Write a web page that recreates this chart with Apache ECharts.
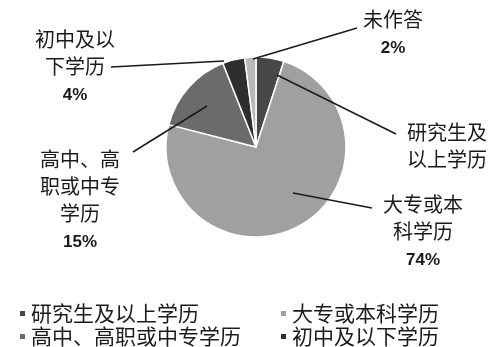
<!DOCTYPE html>
<html><head><meta charset="utf-8">
<script src="https://cdn.jsdelivr.net/npm/echarts@6/dist/echarts.min.js"></script>
<style>html,body{margin:0;padding:0;background:#fff}#c{width:498px;height:347px}</style>
</head><body><div id="c"></div>
<script>
// ---- data ----
const categories = ['研究生及以上学历', '大专或本科学历', '高中、高职或中专学历', '初中及以下学历', '未作答'];
const values = [5, 74, 15, 4, 2];
const labelLines = [['研究生及', '以上学历'], ['大专或本', '科学历'], ['高中、高', '职或中专', '学历'], ['初中及以', '下学历'], ['未作答']];
const showPct = [false, true, true, true, true];
const legendCol1 = ['研究生及以上学历', '高中、高职或中专学历'];
const legendCol2 = ['大专或本科学历', '初中及以下学历'];

// ---- style / layout ----
const colors = ['#474747', '#a0a0a0', '#6b6b6b', '#2e2e2e', '#b8b8b8'];
const CJK = '"Noto Sans CJK SC", "Noto Sans", sans-serif';
// label anchor (center x, top y) and leader-line start/end (annotation layout)
const labelPos = [
  {x: 447, y: 119, s: [277, 75], e: [396, 134]},
  {x: 423, y: 191, s: [293, 193], e: [372, 208]},
  {x: 80, y: 146, s: [207, 106], e: [133, 152]},
  {x: 75, y: 26, s: [224, 61], e: [111, 67]},
  {x: 393, y: 6, s: [253, 59], e: [357, 28]}
];

const chart = echarts.init(document.getElementById('c'));
function legendAt(data, left) {
  return {
    data: data, left: left, top: 298, height: 80,
    orient: 'vertical', icon: 'rect', itemWidth: 7, itemHeight: 7, itemGap: 2,
    textStyle: {fontFamily: CJK, fontSize: 21, color: '#1a1a1a'},
    selectedMode: false
  };
}
chart.setOption({
  animation: false,
  color: colors,
  legend: [legendAt(legendCol1, 13), legendAt(legendCol2, 274)],
  graphic: labelPos.map(L => ({
    type: 'polyline', z: 10, silent: true,
    shape: {points: [L.s, L.e]},
    style: {stroke: '#1a1a1a', lineWidth: 1.5, fill: null}
  })),
  series: [{
    type: 'pie',
    center: [256, 147],
    radius: 90,
    startAngle: 90,
    clockwise: true,
    itemStyle: {borderColor: '#fff', borderWidth: 1.5},
    data: categories.map((c, i) => ({name: c, value: values[i]})),
    label: {
      show: true,
      formatter: p => {
        const i = p.dataIndex;
        let s = labelLines[i].map(t => '{n|' + t + '}').join('\n');
        if (showPct[i]) s += '\n{p|' + p.value + '%}';
        return s;
      },
      rich: {
        n: {fontFamily: CJK, fontSize: 20, lineHeight: 27, color: '#1a1a1a', align: 'center'},
        p: {fontFamily: '"Liberation Sans", Arial, sans-serif', fontWeight: 'bold', fontSize: 17, lineHeight: 30, color: '#1a1a1a', align: 'center'}
      }
    },
    labelLine: {show: false},
    labelLayout: p => {
      const L = labelPos[p.dataIndex];
      return {x: L.x, y: L.y, align: 'center', verticalAlign: 'top'};
    }
  }]
});
</script></body></html>
